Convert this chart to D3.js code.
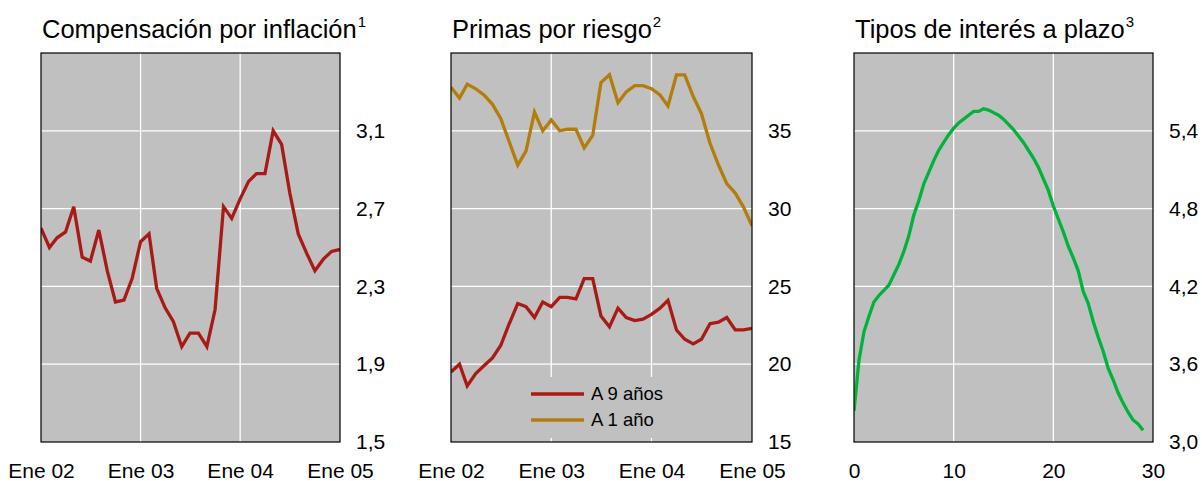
<!DOCTYPE html>
<html>
<head>
<meta charset="utf-8">
<script src="https://cdn.jsdelivr.net/npm/d3@7"></script>
<style>
  html, body { margin: 0; padding: 0; background: #ffffff; }
  svg { display: block; }
  text { font-family: "Liberation Sans", Arial, sans-serif; fill: #000; }
</style>
</head>
<body>
<svg id="chart" width="1202" height="481"></svg>
<script>
// ---------- DATA ----------
const monthStart = "2002-01-01";
const monthEnd = "2005-01-01";
const dateTickLabels = ["Ene 02", "Ene 03", "Ene 04", "Ene 05"];

// Panel 1: Compensación por inflación (monthly, Jan 02 – Jan 05)
const inflation = [2.60, 2.50, 2.55, 2.58, 2.71, 2.45, 2.43, 2.59, 2.38, 2.22,
                   2.23, 2.34, 2.53, 2.57, 2.29, 2.19, 2.12, 1.99, 2.06, 2.06,
                   1.99, 2.18, 2.71, 2.65, 2.75, 2.84, 2.88, 2.88, 3.10, 3.03,
                   2.78, 2.57, 2.47, 2.38, 2.44, 2.48, 2.49];
const inflationTicks = [1.5, 1.9, 2.3, 2.7, 3.1];

// Panel 2: Primas por riesgo
const premium9y = [19.5, 20.0, 18.6, 19.4, 19.9, 20.4, 21.2, 22.6, 23.9, 23.7,
                   23.0, 24.0, 23.7, 24.3, 24.3, 24.2, 25.5, 25.5, 23.1, 22.4,
                   23.6, 23.0, 22.8, 22.9, 23.2, 23.6, 24.1, 22.2, 21.6, 21.3,
                   21.6, 22.6, 22.7, 23.0, 22.2, 22.2, 22.3];
const premium1y = [37.8, 37.1, 38.0, 37.7, 37.3, 36.7, 35.8, 34.3, 32.8, 33.7,
                   36.2, 35.0, 35.7, 35.0, 35.1, 35.1, 33.9, 34.7, 38.1, 38.6,
                   36.8, 37.5, 37.9, 37.9, 37.7, 37.3, 36.6, 38.6, 38.6, 37.2,
                   36.1, 34.2, 32.8, 31.6, 31.0, 30.1, 28.9];
const premiumTicks = [15, 20, 25, 30, 35];
const premiumLegend = ["A 9 años", "A 1 año"];

// Panel 3: Tipos de interés a plazo (maturity in years)
const forwardMaturity = [0, 0.5, 1, 1.5, 2, 2.5, 3, 3.5, 4, 4.5, 5, 5.5, 6, 6.5, 7, 7.5,
                         8, 8.5, 9, 9.5, 10, 10.5, 11, 11.5, 12, 12.5, 13, 13.5, 14, 14.5,
                         15, 15.5, 16, 16.5, 17, 17.5, 18, 18.5, 19, 19.5, 20, 20.5, 21,
                         21.5, 22, 22.5, 23, 23.5, 24, 24.5, 25, 25.5, 26, 26.5, 27, 27.5,
                         28, 28.5, 29];
const forwardRate = [3.24, 3.63, 3.85, 3.97, 4.08, 4.13, 4.17, 4.21, 4.29, 4.37, 4.47,
                     4.59, 4.75, 4.86, 4.99, 5.08, 5.17, 5.25, 5.31, 5.37, 5.42, 5.46,
                     5.49, 5.52, 5.55, 5.55, 5.57, 5.56, 5.54, 5.52, 5.49, 5.45, 5.41,
                     5.36, 5.31, 5.25, 5.19, 5.12, 5.03, 4.94, 4.82, 4.72, 4.62, 4.51,
                     4.42, 4.32, 4.16, 4.07, 3.93, 3.81, 3.70, 3.57, 3.48, 3.38, 3.30,
                     3.23, 3.17, 3.14, 3.09];
const forwardTicks = [3.0, 3.6, 4.2, 4.8, 5.4];
const forwardXTicks = [0, 10, 20, 30];

const titles = [
  {text: "Compensación por inflación", sup: "1"},
  {text: "Primas por riesgo", sup: "2"},
  {text: "Tipos de interés a plazo", sup: "3"}
];

// ---------- STYLE ----------
const C_RED = "#a81a16";
const C_GOLD = "#b37d0b";
const C_GREEN = "#00b33a";
const C_BG = "#c0c0c0";

const svg = d3.select("#chart");
const plotTop = 53, plotBottom = 442;
const panels = [
  {x0: 41, x1: 340},
  {x0: 451, x1: 752},
  {x0: 854, x1: 1153}
];

const parse = d3.timeParse("%Y-%m-%d");
const months = d3.timeMonth.range(parse(monthStart), d3.timeMonth.offset(parse(monthEnd), 1));
const yearTicks = d3.timeYear.range(parse(monthStart), d3.timeMonth.offset(parse(monthEnd), 1));
const commaFmt = d3.format(".1f");
const fmtComma = v => commaFmt(v).replace(".", ",");

function drawPanel(idx, xScale, yScale, xTicks, xTickFmt, yTicks, yTickFmt, series) {
  const p = panels[idx];
  const g = svg.append("g");
  g.append("rect").attr("x", p.x0).attr("y", plotTop)
    .attr("width", p.x1 - p.x0).attr("height", plotBottom - plotTop)
    .attr("fill", C_BG);
  g.selectAll(".vg").data(xTicks.slice(1, -1)).enter().append("line")
    .attr("x1", d => xScale(d)).attr("x2", d => xScale(d))
    .attr("y1", plotTop).attr("y2", plotBottom)
    .attr("stroke", "#ffffff").attr("stroke-width", 1.3);
  g.selectAll(".hg").data(yTicks.slice(1)).enter().append("line")
    .attr("x1", p.x0).attr("x2", p.x1)
    .attr("y1", d => yScale(d)).attr("y2", d => yScale(d))
    .attr("stroke", "#ffffff").attr("stroke-width", 1.3);

  const clipId = "clip" + idx;
  g.append("clipPath").attr("id", clipId).append("rect")
    .attr("x", p.x0).attr("y", plotTop).attr("width", p.x1 - p.x0).attr("height", plotBottom - plotTop);

  const lines = g.append("g").attr("clip-path", `url(#${clipId})`);
  series.forEach(s => {
    const line = d3.line().x(d => xScale(d[0])).y(d => yScale(d[1]));
    lines.append("path").datum(s.data)
      .attr("d", line).attr("fill", "none")
      .attr("stroke", s.color).attr("stroke-width", 3.3)
      .attr("stroke-linejoin", "miter").attr("stroke-miterlimit", 4);
  });

  g.append("rect").attr("x", p.x0).attr("y", plotTop)
    .attr("width", p.x1 - p.x0).attr("height", plotBottom - plotTop)
    .attr("fill", "none").attr("stroke", "#000").attr("stroke-width", 1.2);

  const yAxis = d3.axisRight(yScale).tickValues(yTicks).tickFormat(yTickFmt)
    .tickSize(0).tickPadding(16);
  const ya = g.append("g").attr("transform", `translate(${p.x1},0)`).call(yAxis);
  ya.select(".domain").remove();
  ya.selectAll("text").attr("font-size", "21px")
    .style("font-family", "'Liberation Sans', Arial, sans-serif");

  const xAxis = d3.axisBottom(xScale).tickValues(xTicks).tickFormat(xTickFmt)
    .tickSize(0).tickPadding(0);
  const xa = g.append("g").attr("transform", `translate(0,${plotBottom})`).call(xAxis);
  xa.select(".domain").remove();
  xa.selectAll("text").attr("font-size", "21px").attr("dy", "0").attr("y", 36)
    .style("font-family", "'Liberation Sans', Arial, sans-serif");

  const t = svg.append("text").attr("x", p.x0 + 1).attr("y", 38)
    .attr("font-size", "25.5px");
  t.append("tspan").text(titles[idx].text);
  t.append("tspan").text(titles[idx].sup).attr("font-size", "15px").attr("dy", "-11").attr("dx", "1");
  return g;
}

// Panel 1
{
  const p = panels[0];
  const x = d3.scaleTime().domain([parse(monthStart), parse(monthEnd)]).range([p.x0, p.x1]);
  const y = d3.scaleLinear().domain([1.5, 3.5]).range([plotBottom, plotTop]);
  drawPanel(0, x, y, yearTicks, (d, i) => dateTickLabels[i], inflationTicks, fmtComma,
    [{data: months.map((m, i) => [m, inflation[i]]), color: C_RED}]);
}

// Panel 2
{
  const p = panels[1];
  const x = d3.scaleTime().domain([parse(monthStart), parse(monthEnd)]).range([p.x0, p.x1]);
  const y = d3.scaleLinear().domain([15, 40]).range([plotBottom, plotTop]);
  drawPanel(1, x, y, yearTicks, (d, i) => dateTickLabels[i], premiumTicks, d3.format("d"),
    [{data: months.map((m, i) => [m, premium9y[i]]), color: C_RED},
     {data: months.map((m, i) => [m, premium1y[i]]), color: C_GOLD}]);
  const lg = svg.append("g");
  lg.append("rect").attr("x", 522).attr("y", 377).attr("width", 170).attr("height", 61)
    .attr("fill", C_BG);
  const items = [{label: premiumLegend[0], color: C_RED}, {label: premiumLegend[1], color: C_GOLD}];
  items.forEach((it, i) => {
    const yy = 394 + i * 26;
    lg.append("line").attr("x1", 531).attr("x2", 584).attr("y1", yy).attr("y2", yy)
      .attr("stroke", it.color).attr("stroke-width", 3.3);
    lg.append("text").attr("x", 591).attr("y", yy).attr("dy", "0.35em")
      .attr("font-size", "18.5px").text(it.label);
  });
}

// Panel 3
{
  const p = panels[2];
  const x = d3.scaleLinear().domain([0, 30]).range([p.x0, p.x1]);
  const y = d3.scaleLinear().domain([3.0, 6.0]).range([plotBottom, plotTop]);
  drawPanel(2, x, y, forwardXTicks, d3.format("d"), forwardTicks, fmtComma,
    [{data: forwardMaturity.map((m, i) => [m, forwardRate[i]]), color: C_GREEN}]);
}
</script>
</body>
</html>
